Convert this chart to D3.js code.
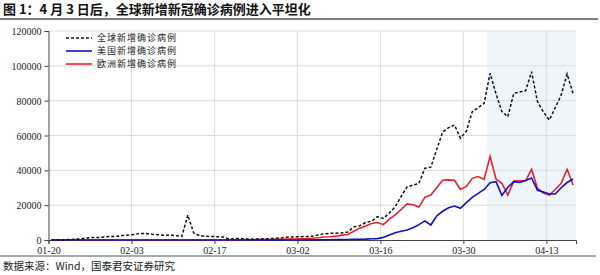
<!DOCTYPE html>
<html>
<head>
<meta charset="utf-8">
<script src="https://cdn.jsdelivr.net/npm/d3@7"></script>
<style>
  body { margin: 0; background: #fff; }
  svg { display: block; }
  .ylab, .xlab { font-family: "Liberation Serif", "DejaVu Serif", serif; font-size: 10px; fill: #222; }
</style>
</head>
<body>
<svg id="chart"></svg>
<script>
var startDate = "2020-01-20";
var tickDates = ["2020-01-20", "2020-02-03", "2020-02-17", "2020-03-02", "2020-03-16", "2020-03-30", "2020-04-13"];
var yTicks = [0, 20000, 40000, 60000, 80000, 100000, 120000];
var shadeFrom = "2020-04-03";
var seriesNames = ["全球新增确诊病例", "美国新增确诊病例", "欧洲新增确诊病例"];

// daily new cases, 2020-01-20 .. 2020-04-17
var globalNew = [100, 150, 120, 250, 450, 700, 1200, 1500, 1500, 1800,
  2000, 2100, 2600, 2800, 3200, 3800, 3700, 3300, 3000, 2700,
  2900, 2400, 2100, 14300, 4000, 2500, 2100, 2000, 1900, 1700,
  500, 800, 900, 600, 500, 550, 700, 800, 1000, 1300,
  1700, 1800, 1900, 2000, 2200, 2900, 3600, 3800, 3900, 4100,
  4600, 7500, 8200, 10000, 10800, 13400, 12400, 15500, 19100, 25000,
  30500, 31500, 32500, 41200, 41800, 52000, 62000, 64500, 66000, 58500,
  62500, 73700, 76000, 78500, 95700, 84000, 73700, 70800, 84200, 85000,
  85700, 96600, 79400, 73500, 68900, 76000, 83300, 95300, 84200];
var usNew = [0, 0, 0, 0, 0, 0, 0, 0, 0, 0,
  0, 0, 0, 0, 0, 0, 0, 0, 0, 0,
  0, 0, 0, 0, 0, 0, 0, 0, 0, 0,
  0, 0, 0, 0, 0, 0, 0, 0, 0, 10,
  20, 30, 40, 60, 80, 100, 120, 150, 200, 250,
  300, 350, 400, 500, 700, 800, 1500, 2900, 4200, 5000,
  5700, 7000, 8800, 11000, 8600, 13800, 16500, 18500, 19500, 18200,
  21500, 24500, 26800, 29000, 32900, 33500, 25600, 30300, 33500, 33000,
  34200, 35600, 28500, 27500, 26400, 26400, 30000, 33000, 35000];
var euNew = [0, 0, 0, 0, 0, 0, 0, 0, 0, 0,
  0, 0, 0, 0, 0, 0, 0, 0, 0, 0,
  0, 0, 0, 0, 0, 0, 0, 0, 0, 0,
  0, 0, 0, 80, 150, 200, 250, 300, 400, 450,
  500, 600, 700, 800, 1000, 1300, 1700, 1900, 2200, 2800,
  3200, 5000, 6800, 8000, 9500, 10000, 8800, 12000, 14400, 17500,
  20700, 20200, 18900, 24500, 25800, 30000, 34300, 34500, 34300, 29000,
  30800, 35400, 36400, 34800, 48000, 35000, 32600, 25800, 33800, 34000,
  34000, 40600, 29700, 27000, 25800, 29000, 32600, 40600, 31600];

var width = 600, height = 275;
var margin = {left: 48.5, right: 576, top: 31, bottom: 240};

var svg = d3.select("#chart").attr("width", width).attr("height", height);
var parse = d3.timeParse("%Y-%m-%d");
var day0 = parse(startDate);
var dates = globalNew.map(function(d, i) { return d3.timeDay.offset(day0, i); });
var endDate = d3.timeDay.offset(day0, globalNew.length);

var x = d3.scaleTime().domain([day0, endDate]).range([margin.left, margin.right]);
var y = d3.scaleLinear().domain([0, 120000]).range([margin.bottom, margin.top]);
// points sit in the middle of each day
function px(i) { return x(d3.timeHour.offset(dates[i], 12)); }

// title
svg.append("text")
  .attr("x", 3).attr("y", 14)
  .style("font-family", "'Noto Sans CJK SC', sans-serif")
  .style("font-size", "13px").style("font-weight", "bold").style("fill", "#111")
  .text("图 1：4 月 3 日后，全球新增新冠确诊病例进入平坦化");
svg.append("line").attr("x1", 0).attr("x2", 598).attr("y1", 19).attr("y2", 19)
  .attr("stroke", "#555").attr("stroke-width", 1.5);

// shaded period
svg.append("rect")
  .attr("x", x(parse(shadeFrom))).attr("y", margin.top)
  .attr("width", margin.right - x(parse(shadeFrom)))
  .attr("height", margin.bottom - margin.top)
  .attr("fill", "#eef5fb");

// grid
svg.append("g").selectAll("line").data(yTicks.slice(1)).enter().append("line")
  .attr("x1", margin.left).attr("x2", margin.right)
  .attr("y1", function(d) { return y(d); }).attr("y2", function(d) { return y(d); })
  .attr("stroke", "#dcdcdc").attr("stroke-width", 1);
svg.append("g").selectAll("line").data(tickDates.slice(1)).enter().append("line")
  .attr("x1", function(d) { return x(parse(d)); }).attr("x2", function(d) { return x(parse(d)); })
  .attr("y1", margin.top).attr("y2", margin.bottom)
  .attr("stroke", "#dcdcdc").attr("stroke-width", 1);

// axes
var yAxis = d3.axisLeft(y).tickValues(yTicks).tickSize(4).tickFormat(d3.format("d"));
var gy = svg.append("g").attr("transform", "translate(" + margin.left + ",0)").call(yAxis);
gy.select(".domain").attr("stroke", "#444");
gy.selectAll(".tick line").attr("stroke", "#444");
gy.selectAll("text").attr("class", "ylab").attr("x", -7).attr("dy", "0.35em");

var xAxis = d3.axisBottom(x).tickValues(tickDates.map(parse)).tickSize(4).tickFormat(d3.timeFormat("%m-%d"));
var gx = svg.append("g").attr("transform", "translate(0," + margin.bottom + ")").call(xAxis);
gx.select(".domain").attr("stroke", "#444");
gx.selectAll(".tick line").attr("stroke", "#444");
gx.selectAll("text").attr("class", "xlab").attr("y", 7);

// lines
var line = d3.line().x(function(d, i) { return px(i); }).y(function(d) { return y(d); });
svg.append("path").datum(euNew).attr("d", line)
  .attr("fill", "none").attr("stroke", "#e8202a").attr("stroke-width", 1.6);
svg.append("path").datum(usNew).attr("d", line)
  .attr("fill", "none").attr("stroke", "#1010c8").attr("stroke-width", 1.6);
svg.append("path").datum(globalNew).attr("d", line)
  .attr("fill", "none").attr("stroke", "#111").attr("stroke-width", 1.5)
  .attr("stroke-dasharray", "3,2");

// legend
var legendColors = ["#111", "#1010c8", "#e8202a"];
var lg = svg.append("g").selectAll("g").data(seriesNames).enter().append("g")
  .attr("transform", function(d, i) { return "translate(66," + (38 + i * 13) + ")"; });
lg.append("line").attr("x1", 0).attr("x2", 26).attr("y1", 0).attr("y2", 0)
  .attr("stroke", function(d, i) { return legendColors[i]; })
  .attr("stroke-width", 1.6)
  .attr("stroke-dasharray", function(d, i) { return i === 0 ? "3,2" : null; });
lg.append("text").attr("x", 31).attr("y", 0).attr("dy", "0.35em")
  .style("font-family", "'Noto Sans CJK SC', sans-serif").style("font-size", "9px")
  .style("letter-spacing", "1px").style("fill", "#222")
  .text(function(d) { return d; });

// bottom rule and source
svg.append("line").attr("x1", 0).attr("x2", 596).attr("y1", 256).attr("y2", 256)
  .attr("stroke", "#555").attr("stroke-width", 1);
svg.append("text").attr("x", 3).attr("y", 270)
  .style("font-family", "'Noto Sans CJK SC', sans-serif").style("font-size", "10.5px").style("fill", "#222")
  .text("数据来源：Wind，国泰君安证券研究");
</script>
</body>
</html>
